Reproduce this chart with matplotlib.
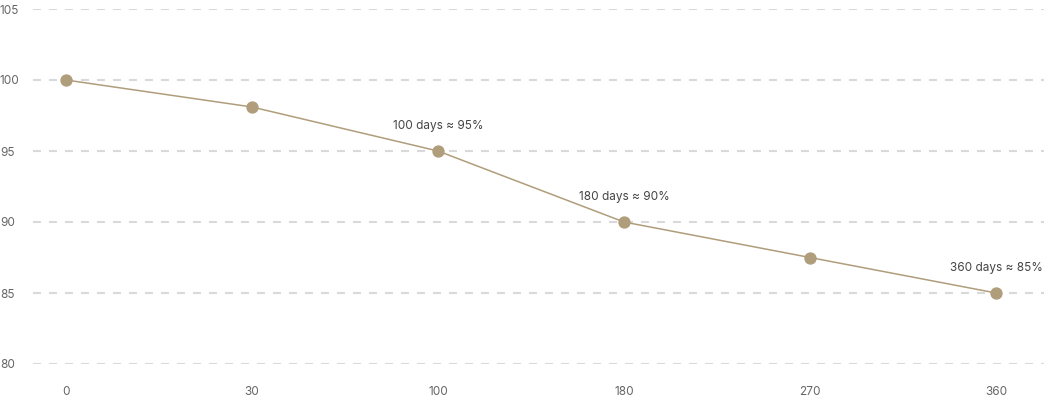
import matplotlib
matplotlib.use("Agg")
import matplotlib.pyplot as plt

# data
days = ["0", "30", "100", "180", "270", "360"]
retention = [100, 98.1, 95, 90, 87.5, 85]
labels = {2: "100 days ≈ 95%", 3: "180 days ≈ 90%", 5: "360 days ≈ 85%"}
y_ticks = [80, 85, 90, 95, 100, 105]

plt.rcParams['font.family'] = ['Inter', 'DejaVu Sans']

fig = plt.figure(figsize=(10.44, 4), dpi=100)
ax = fig.add_axes([33 / 1044, 36 / 400, 1 - 33 / 1044, 355 / 400])

x = list(range(len(days)))
ax.plot(x, retention, color='#b09d7b', linewidth=1.1, zorder=3)
ax.scatter(x, retention, s=62, color='#b09d7b', zorder=4, clip_on=False)

for i, text in labels.items():
    ax.annotate(text, (x[i], retention[i]), xytext=(0, 14), textcoords='offset points',
                ha='center', va='bottom', fontsize=8.5, color='#444444')

ax.set_xlim(-0.177, 5.258)
ax.set_ylim(80, 105)
ax.set_xticks(x)
ax.set_xticklabels(days)
ax.set_yticks(y_ticks)

for y in y_ticks:
    ax.axhline(y, color='#d9d9d9', linewidth=1.5, dashes=(3.84, 3.84), zorder=1)

for s in ax.spines.values():
    s.set_visible(False)
ax.tick_params(length=0, labelsize=8.5, colors='#666666')
ax.tick_params(axis='x', pad=16)
for lab in ax.get_yticklabels():
    lab.set_horizontalalignment('left')
ax.tick_params(axis='y', pad=23.8)

fig.savefig('out.png', dpi=100)
